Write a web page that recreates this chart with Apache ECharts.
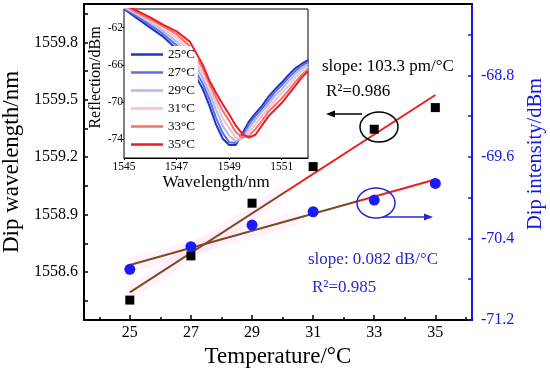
<!DOCTYPE html>
<html><head><meta charset="utf-8">
<script src="https://cdn.jsdelivr.net/npm/echarts@6/dist/echarts.min.js"></script>
<style>html,body{margin:0;padding:0;background:#fff}#c{width:550px;height:369px}</style>
</head><body><div id="c"></div>
<script>
// ---- main chart data ----
const temps = [25, 27, 29, 31, 33, 35];
const dipWavelength = [1558.454, 1558.685, 1558.960, 1559.151, 1559.346, 1559.459];
const dipIntensity = [-70.703, -70.481, -70.269, -70.138, -70.024, -69.860];
const fitT = [25, 35];
const fitWavelength = [1558.494, 1559.525];
const fitIntensity = [-70.661, -69.821];
const xLabels = [25, 27, 29, 31, 33, 35];
const xMinorTicks = [24, 26, 28, 30, 32, 34, 36];
const leftLabels = [1558.6, 1558.9, 1559.2, 1559.5, 1559.8];
const leftTicks = [1558.45, 1558.6, 1558.75, 1558.9, 1559.05, 1559.2, 1559.35, 1559.5, 1559.65, 1559.8, 1559.95];
const rightLabels = [-71.2, -70.4, -69.6, -68.8];
const rightTicks = [-71.2, -70.8, -70.4, -70.0, -69.6, -69.2, -68.8, -68.4];

// ---- inset spectra ----
const spectrumNames = ['25°C', '27°C', '29°C', '31°C', '33°C', '35°C'];
const specWl = [1545, 1545.5, 1546, 1546.5, 1547, 1547.5, 1548, 1548.25, 1548.5, 1548.75, 1549, 1549.25, 1549.5, 1549.75, 1550, 1550.25, 1550.5, 1550.75, 1551, 1551.25, 1551.5, 1551.75, 1552];
const spec25 = [-60.0, -61.0, -62.0, -63.0, -64.3, -66.1, -68.6, -70.4, -72.4, -73.9, -74.6, -74.6, -73.4, -72.1, -71.2, -70.4, -69.4, -68.6, -67.9, -67.1, -66.4, -65.9, -65.5];
const spec27 = [-59.9, -60.8, -61.7, -62.7, -63.9, -65.6, -68.0, -69.7, -71.7, -73.3, -74.3, -74.4, -73.7, -72.4, -71.5, -70.7, -69.8, -68.9, -68.2, -67.4, -66.7, -66.1, -65.7];
const spec29 = [-59.8, -60.6, -61.5, -62.4, -63.5, -65.0, -67.4, -69.0, -70.8, -72.5, -73.6, -74.2, -73.9, -72.8, -71.9, -71.0, -70.2, -69.3, -68.6, -67.8, -67.0, -66.4, -65.9];
const spec31 = [-59.7, -60.5, -61.3, -62.2, -63.1, -64.5, -66.9, -68.5, -70.1, -71.7, -72.8, -73.8, -73.9, -73.2, -72.4, -71.5, -70.6, -69.8, -69.0, -68.3, -67.4, -66.7, -66.2];
const spec33 = [-59.6, -60.4, -61.1, -61.9, -62.7, -64.0, -66.4, -68.0, -69.5, -70.9, -72.0, -73.2, -73.8, -73.6, -72.9, -72.0, -71.0, -70.3, -69.6, -68.8, -67.9, -67.1, -66.5];
const spec35 = [-59.5, -60.2, -60.9, -61.7, -62.4, -63.5, -66.0, -67.7, -69.0, -70.2, -71.3, -72.5, -73.4, -73.8, -73.5, -72.5, -71.5, -70.8, -70.1, -69.2, -68.3, -67.4, -66.7];
const spectra = [spec25, spec27, spec29, spec31, spec33, spec35];
const specColors = ['#1f33c4', '#5a6ee6', '#b0b8f0', '#f8c0c8', '#f07070', '#ee1c24'];
const insetXLabels = [1545, 1547, 1549, 1551];
const insetYLabels = [-74, -70, -66, -62];

const FONT = '"Liberation Serif", "Times New Roman", serif';
const BLUE = '#1616e6';
const TXTBLUE = '#2a2acc';
const BROWN = '#7f4a1c';
const RED = '#ee1c1c';

function hardGrad(c1, c2, f) {
  return {type: 'linear', x: 0, y: 0, x2: 1, y2: 0,
    colorStops: [{offset: 0, color: c1}, {offset: f, color: c1}, {offset: f, color: c2}, {offset: 1, color: c2}]};
}
const pair = (xs, ys) => xs.map((x, i) => [x, ys[i]]);

const chart = echarts.init(document.getElementById('c'), null, {renderer: 'canvas'});

const series = [
  {type: 'line', name: 'bandW', xAxisIndex: 0, yAxisIndex: 0, data: pair(fitT, fitWavelength), symbol: 'none', silent: true, z: 1,
    lineStyle: {width: 14, color: hardGrad('rgba(255,160,235,0.13)', 'rgba(255,255,255,0)', 0.5)}},
  {type: 'line', name: 'bandI', xAxisIndex: 0, yAxisIndex: 1, data: pair(fitT, fitIntensity), symbol: 'none', silent: true, z: 1,
    lineStyle: {width: 14, color: hardGrad('rgba(255,160,235,0.13)', 'rgba(255,255,255,0)', 0.55)}},
  {type: 'line', name: 'fitW', xAxisIndex: 0, yAxisIndex: 0, data: pair(fitT, fitWavelength), symbol: 'none', z: 2,
    lineStyle: {width: 2, color: hardGrad(BROWN, RED, 0.51)}},
  {type: 'line', name: 'fitI', xAxisIndex: 0, yAxisIndex: 1, data: pair(fitT, fitIntensity), symbol: 'none', z: 2,
    lineStyle: {width: 2, color: hardGrad(BROWN, RED, 0.75)}},
  {type: 'scatter', name: 'Dip wavelength', xAxisIndex: 0, yAxisIndex: 0, data: pair(temps, dipWavelength),
    symbol: 'rect', symbolSize: 9, itemStyle: {color: '#000', opacity: 1}, z: 3},
  {type: 'scatter', name: 'Dip intensity', xAxisIndex: 0, yAxisIndex: 1, data: pair(temps, dipIntensity),
    symbol: 'circle', symbolSize: 11, itemStyle: {color: '#1a1aff', opacity: 1}, z: 3}
];
spectra.forEach((s, i) => {
  series.push({type: 'line', name: spectrumNames[i], xAxisIndex: 3, yAxisIndex: 2, data: pair(specWl, s),
    symbol: 'none', showSymbol: false, clip: true, z: 5 + i,
    lineStyle: {width: 2, color: specColors[i]}, itemStyle: {color: specColors[i]}});
});

const option = {
  animation: false,
  backgroundColor: '#fff',
  textStyle: {fontFamily: FONT},
  grid: [
    {left: 84, right: 78, top: 4, bottom: 49, containLabel: false, outerBoundsMode: 'none'},
    {left: 124, top: 9, width: 184, height: 149, show: true, backgroundColor: '#fff', borderColor: '#000', borderWidth: 1, z: 4, containLabel: false, outerBoundsMode: 'none'}
  ],
  legend: {
    data: spectrumNames, orient: 'vertical', left: 128, top: 46, padding: [2, 3],
    icon: 'rect', itemWidth: 32, itemHeight: 2.5, itemGap: 5, backgroundColor: '#fff', z: 10,
    textStyle: {fontFamily: FONT, fontSize: 13, color: '#000', lineHeight: 13}, selectedMode: false
  },
  xAxis: [
    {gridIndex: 0, type: 'value', position: 'bottom', min: 23.5, max: 36.2,
      name: 'Temperature/°C', nameLocation: 'middle', nameGap: 21,
      nameTextStyle: {fontFamily: FONT, fontSize: 23, color: '#000'},
      axisLine: {show: true, onZero: false, lineStyle: {color: '#000', width: 2}},
      axisTick: {show: true, inside: true, length: 5, customValues: xLabels, lineStyle: {color: '#000', width: 1.5}},
      axisLabel: {show: true, customValues: xLabels, margin: 5, fontFamily: FONT, fontSize: 16, color: '#000'},
      splitLine: {show: false}},
    {gridIndex: 0, type: 'value', position: 'bottom', min: 23.5, max: 36.2,
      axisLine: {show: false}, axisLabel: {show: false}, splitLine: {show: false},
      axisTick: {show: true, inside: true, length: 3, customValues: xMinorTicks, lineStyle: {color: '#000', width: 1.5}}},
    {gridIndex: 0, type: 'value', position: 'top', min: 23.5, max: 36.2,
      axisLine: {show: true, onZero: false, lineStyle: {color: '#000', width: 2}},
      axisLabel: {show: false}, axisTick: {show: false}, splitLine: {show: false}},
    {gridIndex: 1, type: 'value', position: 'bottom', min: 1545, max: 1552,
      name: 'Wavelength/nm', nameLocation: 'middle', nameGap: 16,
      nameTextStyle: {fontFamily: FONT, fontSize: 17, color: '#000'},
      axisLine: {show: true, onZero: false, lineStyle: {color: '#000', width: 1}},
      axisTick: {show: true, inside: false, length: 2, customValues: insetXLabels, lineStyle: {color: '#000'}},
      axisLabel: {show: true, customValues: insetXLabels, margin: 3, fontFamily: FONT, fontSize: 11.5, color: '#000',
        formatter: v => String(v)},
      splitLine: {show: false}}
  ],
  yAxis: [
    {gridIndex: 0, type: 'value', position: 'left', min: 1558.35, max: 1560.0,
      name: 'Dip wavelength/nm', nameLocation: 'middle', nameGap: 54,
      nameTextStyle: {fontFamily: FONT, fontSize: 23, color: '#000'},
      axisLine: {show: true, onZero: false, lineStyle: {color: '#000', width: 2}},
      axisTick: {show: true, inside: true, length: 4, customValues: leftTicks, lineStyle: {color: '#000', width: 1.5}},
      axisLabel: {show: true, customValues: leftLabels, margin: 6, fontFamily: FONT, fontSize: 16, color: '#000',
        formatter: v => v.toFixed(1)},
      splitLine: {show: false}},
    {gridIndex: 0, type: 'value', position: 'right', min: -71.2, max: -68.1,
      name: 'Dip intensity/dBm', nameLocation: 'middle', nameGap: 50,
      nameTextStyle: {fontFamily: FONT, fontSize: 20.5, color: BLUE, padding: [0, 0, 0, 16]},
      axisLine: {show: true, onZero: false, lineStyle: {color: BLUE, width: 2}},
      axisTick: {show: true, inside: true, length: 4, customValues: rightTicks, lineStyle: {color: BLUE, width: 1.5}},
      axisLabel: {show: true, customValues: rightLabels, margin: 9, fontFamily: FONT, fontSize: 16, color: BLUE,
        formatter: v => v.toFixed(1)},
      splitLine: {show: false}},
    {gridIndex: 1, type: 'value', position: 'left', min: -76, max: -60,
      name: 'Reflection/dBm', nameLocation: 'middle', nameGap: 19,
      nameTextStyle: {fontFamily: FONT, fontSize: 16, color: '#000', padding: [0, 0, 0, 12]},
      axisLine: {show: true, onZero: false, lineStyle: {color: '#000', width: 1}},
      axisTick: {show: true, inside: false, length: 2, customValues: insetYLabels, lineStyle: {color: '#000'}},
      axisLabel: {show: true, customValues: insetYLabels, margin: 1, fontFamily: FONT, fontSize: 11.5, color: '#000'},
      splitLine: {show: false}}
  ],
  series: series,
  graphic: [
    {type: 'text', x: 322, y: 67, z: 20, style: {text: 'slope: 103.3 pm/°C', font: '17px ' + FONT, fill: '#000', align: 'left', verticalAlign: 'middle'}},
    {type: 'text', x: 326, y: 92, z: 20, style: {text: 'R²=0.986', font: '17px ' + FONT, fill: '#000', align: 'left', verticalAlign: 'middle'}},
    {type: 'text', x: 308, y: 260, z: 20, style: {text: 'slope: 0.082 dB/°C', font: '17px ' + FONT, fill: TXTBLUE, align: 'left', verticalAlign: 'middle'}},
    {type: 'text', x: 312, y: 288, z: 20, style: {text: 'R²=0.985', font: '17px ' + FONT, fill: TXTBLUE, align: 'left', verticalAlign: 'middle'}},
    {type: 'ellipse', z: 20, shape: {cx: 379, cy: 127, rx: 19, ry: 15}, style: {fill: 'none', stroke: '#000', lineWidth: 1.5}},
    {type: 'line', z: 20, shape: {x1: 362, y1: 114, x2: 333, y2: 114}, style: {stroke: '#000', lineWidth: 1.5}},
    {type: 'polygon', z: 20, shape: {points: [[326, 114], [335, 110.5], [335, 117.5]]}, style: {fill: '#000'}},
    {type: 'ellipse', z: 20, shape: {cx: 376, cy: 203, rx: 19, ry: 15}, style: {fill: 'none', stroke: TXTBLUE, lineWidth: 1.5}},
    {type: 'line', z: 20, shape: {x1: 383, y1: 217, x2: 426, y2: 217}, style: {stroke: TXTBLUE, lineWidth: 1.5}},
    {type: 'polygon', z: 20, shape: {points: [[433, 217], [424, 213.5], [424, 220.5]]}, style: {fill: TXTBLUE}}
  ]
};
chart.setOption(option);
</script>
</body></html>
